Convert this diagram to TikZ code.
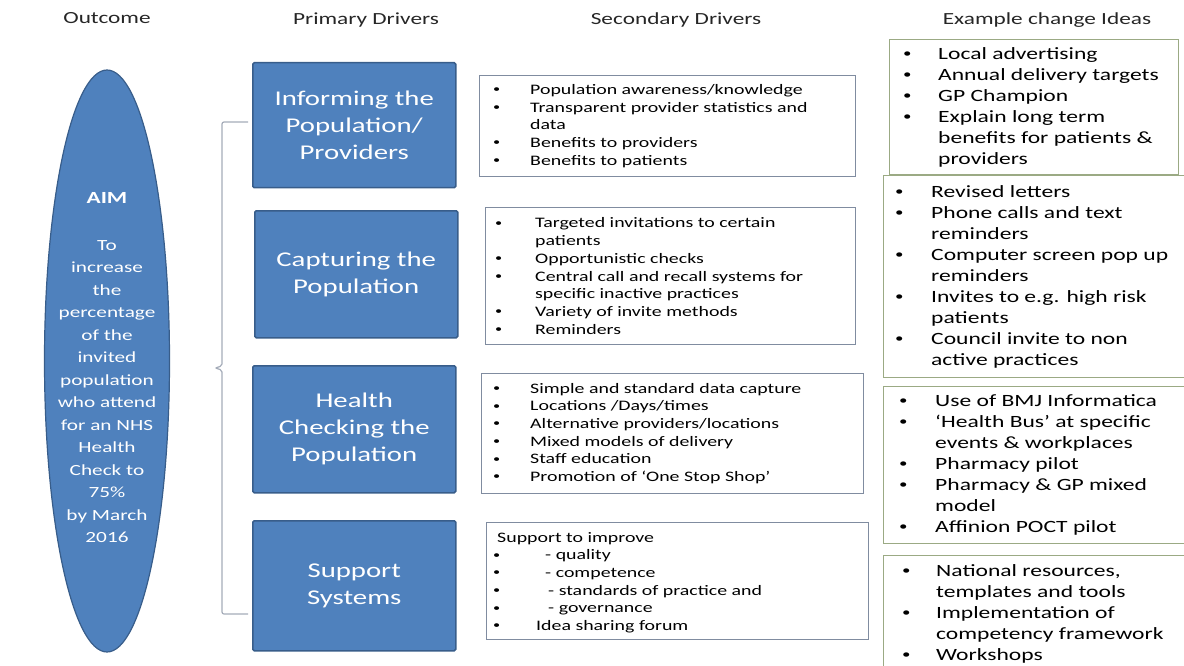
\documentclass[tikz,border=0pt]{standalone}
\usepackage{fontspec}
\usepackage{graphicx}
\setmainfont{Carlito}[FakeStretch=1.37]
\usetikzlibrary{shapes.geometric}

\definecolor{drvfill}{RGB}{79,129,189}
\definecolor{drvedge}{RGB}{56,93,138}
\definecolor{secedge}{RGB}{128,140,160}
\definecolor{exedge}{RGB}{155,170,132}
\definecolor{braccol}{RGB}{165,172,185}
\definecolor{headcol}{RGB}{38,38,38}

\newlength{\bulw}
\newcommand{\itm}{\makebox[\bulw][l]{\raisebox{0.12em}{\scalebox{0.72}{\textbullet}}}}
\newcommand{\cnt}{\hspace*{\bulw}}

\begin{document}
\begin{tikzpicture}[x=1pt,y=1pt,yscale=-1,xscale=1,
  header/.style={inner sep=0pt,text=headcol,font=\fontsize{17}{20}\selectfont},
  aimshape/.style={ellipse,draw=drvedge,line width=1.2pt,fill=drvfill,minimum width=125pt,minimum height=582pt,inner sep=0pt},
  aimtext/.style={align=center,text=white,inner sep=0pt,font=\fontsize{15.5}{22.5}\selectfont},
  primary/.style={draw=drvedge,line width=1.5pt,fill=drvfill,rounded corners=1.5pt,anchor=north west,minimum width=203pt,align=center,text=white,inner sep=0pt,font=\fontsize{21}{27}\selectfont},
  secbox/.style={draw=secedge,line width=1.1pt,anchor=north west,inner sep=0pt},
  exbox/.style={draw=exedge,line width=1.4pt,anchor=north west,inner sep=0pt},
  sectext/.style={anchor=west,align=left,inner sep=0pt,text=black,font=\fontsize{14.5}{17.7}\selectfont,execute at begin node={\setlength{\bulw}{#1}}},
  extext/.style={anchor=west,align=left,inner sep=0pt,text=black,font=\fontsize{17.2}{21}\selectfont,execute at begin node={\setlength{\bulw}{#1}}},
  bracket/.style={draw=braccol,line width=1.2pt,rounded corners=2pt}]
\useasboundingbox (0,0) rectangle (1184,666);

% Text Node
\node[header] (hout) at (107,18) {Outcome};
% Text Node
\node[header] (hpri) at (366,20) {Primary Drivers};
% Text Node
\node[header] (hsec) at (676,20) {Secondary Drivers};
% Text Node
\node[header] (hex) at (1047,20) {Example change Ideas};

%Shape: Ellipse
\node[aimshape] (aim) at (107,361) {};
% Text Node
\node[aimtext] (aimtxt) at ([yshift=7pt]aim.center) {{\bfseries\fontsize{17}{22.5}\selectfont AIM}\\[24pt]
  To\\increase\\the\\percentage\\of the\\invited\\population\\who attend\\for an NHS\\Health\\Check to\\75\%\\by March\\2016};

%Shape: Rectangle
\node[primary,minimum height=125pt] (inform) at (252,62) {Informing the\\Population/\\Providers};
%Shape: Rectangle
\node[primary,minimum height=127pt] (capture) at (254,210) {Capturing the\\Population};
%Shape: Rectangle
\node[primary,minimum height=127pt] (check) at (252,365) {Health\\Checking the\\Population};
%Shape: Rectangle
\node[primary,minimum height=130pt] (support) at (252,520) {Support\\Systems};

%Straight Lines
\coordinate (brtop) at ([xshift=-4pt]inform.west |- 0,122);
\coordinate (brmid) at (215,368);
\coordinate (brbot) at ([xshift=-4pt]support.west |- 0,614);
\draw[bracket] (brtop) -- (222,122) -- (222,366) -- (brmid) -- (222,370) -- (222,614) -- (brbot);

%Shape: Rectangle
\node[secbox,minimum width=376pt,minimum height=101pt] (secinf) at (479,75) {};
% Text Node
\node[sectext=37pt] (secinftxt) at ([xshift=14pt]secinf.west) {%
\itm Population awareness/knowledge\\
\itm Transparent provider statistics and\\
\cnt data\\
\itm Benefits to providers\\
\itm Benefits to patients};

%Shape: Rectangle
\node[secbox,minimum width=370pt,minimum height=137pt] (seccap) at (485,207) {};
% Text Node
\node[sectext=40pt] (seccaptxt) at ([xshift=10pt]seccap.west) {%
\itm Targeted invitations to certain\\
\cnt patients\\
\itm Opportunistic checks\\
\itm Central call and recall systems for\\
\cnt specific inactive practices\\
\itm Variety of invite methods\\
\itm Reminders};

%Shape: Rectangle
\node[secbox,minimum width=382pt,minimum height=120pt] (secchk) at (481,373) {};
% Text Node
\node[sectext=37pt] (secchktxt) at ([xshift=12pt]secchk.west) {%
\itm Simple and standard data capture\\
\itm Locations /Days/times\\
\itm Alternative providers/locations\\
\itm Mixed models of delivery\\
\itm Staff education\\
\itm Promotion of ‘One Stop Shop’};

%Shape: Rectangle
\node[secbox,minimum width=382pt,minimum height=117pt] (secsup) at (486,522) {};
% Text Node
\node[sectext=43pt] (secsuptxt) at ([xshift=7pt,yshift=1.5pt]secsup.west) {%
\hspace*{4pt}Support to improve\\
\itm\hspace*{9pt}- quality\\
\itm\hspace*{9pt}- competence\\
\itm\hspace*{12pt}- standards of practice and\\
\itm\hspace*{12pt}- governance\\
\itm Idea sharing forum};

%Shape: Rectangle
\node[exbox,minimum width=289pt,minimum height=135pt] (exinf) at (889,39) {};
% Text Node
\node[extext=35pt] (exinftxt) at ([xshift=14pt]exinf.west) {%
\itm Local advertising\\
\itm Annual delivery targets\\
\itm GP Champion\\
\itm Explain long term\\
\cnt benefits for patients \&\\
\cnt providers};

%Shape: Rectangle
\node[exbox,minimum width=305pt,minimum height=202pt] (excap) at (883,175) {};
% Text Node
\node[extext=36pt] (excaptxt) at ([xshift=12pt]excap.west) {%
\itm Revised letters\\
\itm Phone calls and text\\
\cnt reminders\\
\itm Computer screen pop up\\
\cnt reminders\\
\itm Invites to e.g. high risk\\
\cnt patients\\
\itm Council invite to non\\
\cnt active practices};

%Shape: Rectangle
\node[exbox,minimum width=305pt,minimum height=157pt] (exchk) at (883,386) {};
% Text Node
\node[extext=36pt] (exchktxt) at ([xshift=16pt]exchk.west) {%
\itm Use of BMJ Informatica\\
\itm ‘Health Bus’ at specific\\
\cnt events \& workplaces\\
\itm Pharmacy pilot\\
\itm Pharmacy \& GP mixed\\
\cnt model\\
\itm Affinion POCT pilot};

%Shape: Rectangle
\node[exbox,minimum width=305pt,minimum height=117pt] (exsup) at (883,555) {};
% Text Node
\node[extext=34pt] (exsuptxt) at ([xshift=19pt]exsup.west) {%
\itm National resources,\\
\cnt templates and tools\\
\itm Implementation of\\
\cnt competency framework\\
\itm Workshops};

\end{tikzpicture}
\end{document}
